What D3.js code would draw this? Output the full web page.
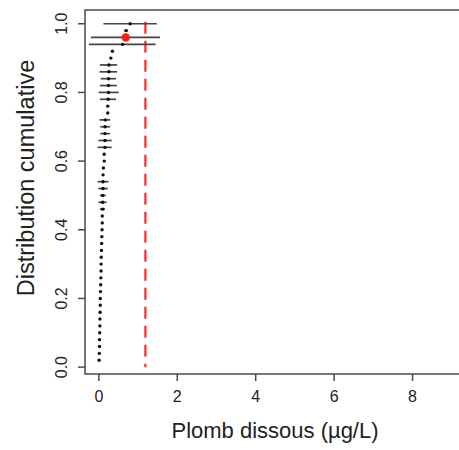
<!DOCTYPE html>
<html lang="fr">
<head>
  <meta charset="UTF-8">
  <title>Distribution cumulative - Plomb dissous</title>
  <script src="https://d3js.org/d3.v7.min.js"></script>
  <style>
    body { margin: 0; background: #fff; }
    text { font-family: "Liberation Sans", Arial, Helvetica, sans-serif; fill: #222; }
  </style>
</head>
<body>
  <svg width="459" height="450"></svg>
  <script>
    // cumulative probability of each sample (y)
    const cumProb = [0.02, 0.04, 0.06, 0.08, 0.10, 0.12, 0.14, 0.16, 0.18, 0.20,
      0.22, 0.24, 0.26, 0.28, 0.30, 0.32, 0.34, 0.36, 0.38, 0.40,
      0.42, 0.44, 0.46, 0.48, 0.50, 0.52, 0.54, 0.56, 0.58, 0.60,
      0.62, 0.64, 0.66, 0.68, 0.70, 0.72, 0.74, 0.76, 0.78, 0.80,
      0.82, 0.84, 0.86, 0.88, 0.90, 0.92, 0.94, 0.96, 0.98, 1.00];
    // dissolved lead concentration (µg/L)
    const plomb = [0.02, 0.025, 0.03, 0.03, 0.035, 0.04, 0.04, 0.045, 0.05, 0.05,
      0.055, 0.06, 0.065, 0.07, 0.07, 0.075, 0.08, 0.085, 0.09, 0.095,
      0.10, 0.10, 0.11, 0.11, 0.11, 0.12, 0.12, 0.12, 0.13, 0.15,
      0.15, 0.17, 0.17, 0.17, 0.17, 0.18, 0.24, 0.24, 0.25, 0.26,
      0.26, 0.26, 0.27, 0.27, 0.32, 0.36, 0.62, 0.70, 0.71, 0.81];
    // uncertainty interval (null = none drawn)
    const barLow = [null, null, null, null, null, null, null, null, null, null,
      null, null, null, null, null, null, null, null, null, null,
      null, null, 0.04, 0.00, 0.04, 0.00, -0.02, null, null, null,
      null, -0.02, 0.00, 0.05, 0.05, 0.03, null, null, 0.04, 0.01,
      0.04, 0.06, 0.03, 0.04, null, null, -0.24, -0.19, 0.65, 0.13];
    const barHigh = [null, null, null, null, null, null, null, null, null, null,
      null, null, null, null, null, null, null, null, null, null,
      null, null, 0.17, 0.21, 0.19, 0.24, 0.26, null, null, null,
      null, 0.34, 0.34, 0.30, 0.30, 0.30, null, null, 0.45, 0.52,
      0.47, 0.45, 0.48, 0.48, null, null, 1.46, 1.57, 0.76, 1.49];
    const highlightIndex = 47;   // red point
    const threshold = 1.2;       // red dashed line
    const xTicks = [0, 2, 4, 6, 8];
    const yTicks = [0.0, 0.2, 0.4, 0.6, 0.8, 1.0];

    const svg = d3.select("svg");
    const mLeft = 85, mRight = 465, mTop = 10, mBottom = 374;

    const x = d3.scaleLinear().domain([-0.34, 9.35]).range([mLeft, mRight]);
    const y = d3.scaleLinear().domain([-0.02, 1.04]).range([mBottom, mTop]);

    const axisColor = "#4a4a4a";

    // plot box
    svg.append("rect")
      .attr("x", mLeft).attr("y", mTop)
      .attr("width", mRight - mLeft).attr("height", mBottom - mTop)
      .attr("fill", "none").attr("stroke", axisColor).attr("stroke-width", 1.5);

    // x axis
    const xAxis = svg.append("g").attr("transform", `translate(0,${mBottom})`)
      .call(d3.axisBottom(x).tickValues(xTicks).tickSize(7).tickPadding(10).tickSizeOuter(0));
    xAxis.select(".domain").remove();
    xAxis.selectAll("line").attr("stroke", axisColor).attr("stroke-width", 1.5);
    xAxis.selectAll("text").attr("font-size", 16).attr("fill", "#222")
      .attr("font-family", "Liberation Sans, Arial, sans-serif");

    // y axis
    const yAxis = svg.append("g").attr("transform", `translate(${mLeft},0)`)
      .call(d3.axisLeft(y).tickValues(yTicks).tickFormat(d3.format(".1f")).tickSize(7).tickSizeOuter(0));
    yAxis.select(".domain").remove();
    yAxis.selectAll("line").attr("stroke", axisColor).attr("stroke-width", 1.5);
    yAxis.selectAll(".tick").attr("transform", null);
    yAxis.selectAll(".tick line").attr("y1", d => y(d)).attr("y2", d => y(d));
    yAxis.selectAll("text")
      .attr("font-size", 16).attr("fill", "#222")
      .attr("font-family", "Liberation Sans, Arial, sans-serif")
      .attr("x", null).attr("dy", null).attr("y", 0)
      .attr("text-anchor", "middle")
      .attr("transform", d => `translate(-18,${y(d)}) rotate(-90)`);

    // axis titles
    svg.append("text")
      .attr("x", (mLeft + mRight) / 2).attr("y", 438)
      .attr("text-anchor", "middle").attr("font-size", 22)
      .text("Plomb dissous (µg/L)");
    svg.append("text")
      .attr("transform", `translate(34,178) rotate(-90)`)
      .attr("text-anchor", "middle").attr("font-size", 23.5)
      .text("Distribution cumulative");

    const pts = cumProb.map((p, i) => ({ p, v: plomb[i], lo: barLow[i], hi: barHigh[i], i }));

    // threshold
    svg.append("line")
      .attr("x1", x(threshold)).attr("x2", x(threshold))
      .attr("y1", y(1.0) - 2).attr("y2", y(0))
      .attr("stroke", "#ff2a2a").attr("stroke-width", 2.2)
      .attr("stroke-dasharray", "12,7");

    // uncertainty bars
    svg.append("g").selectAll("line")
      .data(pts.filter(d => d.lo !== null))
      .join("line")
      .attr("x1", d => x(d.lo)).attr("x2", d => x(d.hi))
      .attr("y1", d => y(d.p)).attr("y2", d => y(d.p))
      .attr("stroke", "#444").attr("stroke-width", 1.7);

    // points
    svg.append("g").selectAll("circle")
      .data(pts.filter(d => d.i !== highlightIndex))
      .join("circle")
      .attr("cx", d => x(d.v)).attr("cy", d => y(d.p))
      .attr("r", 1.7).attr("fill", "#111");

    const h = pts[highlightIndex];
    svg.append("circle")
      .attr("cx", x(h.v)).attr("cy", y(h.p))
      .attr("r", 4.2).attr("fill", "#ff1a1a");
  </script>
</body>
</html>
